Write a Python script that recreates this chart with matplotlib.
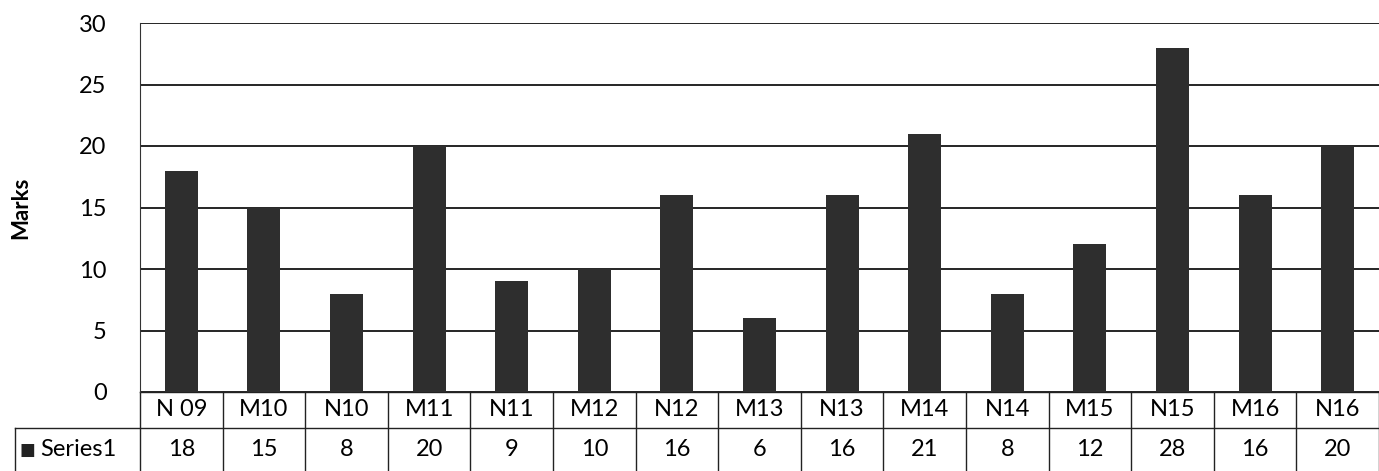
import numpy as np
import matplotlib.pyplot as plt
import matplotlib.transforms as mtransforms

plt.rcParams['font.family'] = ['Lato', 'DejaVu Sans']

categories = ["N 09", "M10", "N10", "M11", "N11", "M12", "N12", "M13",
              "N13", "M14", "N14", "M15", "N15", "M16", "N16"]
marks = [18, 15, 8, 20, 9, 10, 16, 6, 16, 21, 8, 12, 28, 16, 20]
series_name = "Series1"
y_ticks = [0, 5, 10, 15, 20, 25, 30]

fig = plt.figure(figsize=(13.79, 4.71), dpi=100)
ax = fig.add_axes([140 / 1379, 79 / 471, 1 - 140 / 1379, 369 / 471])

x = np.arange(len(categories))
ax.bar(x, marks, width=0.4, color='#2e2e2e', zorder=3)

ax.set_xlim(-0.5, len(categories) - 0.5)
ax.set_ylim(0, 30)
ax.set_yticks(y_ticks)
ax.tick_params(axis='y', length=0, labelsize=17, pad=24)
ax.set_xticks([])
ax.grid(axis='y', color='black', linewidth=1.2, zorder=1)
for s in ["top", "right", "bottom"]:
    ax.spines[s].set_visible(False)
ax.spines["left"].set_color('#333333')
ax.set_ylabel("Marks", fontsize=16, fontweight='bold')
ax.yaxis.set_label_coords(-0.088, 0.5)

# --- data table under the axis ---
trans = mtransforms.blended_transform_factory(ax.transData, ax.transAxes)
h1 = -36 / 369   # bottom of category row
h2 = -80 / 369   # bottom of value row
lab_left = -0.5 - 125 / 82.6
lw = 1.0
kw = dict(transform=trans, clip_on=False, color='#222222', linewidth=lw)

n = len(categories)
# horizontal lines
ax.plot([-0.5, n - 0.5], [0, 0], **kw)
ax.plot([lab_left, n - 0.5], [h1, h1], **kw)
ax.plot([lab_left, n - 0.5], [h2, h2], **kw)
# vertical lines
for i in range(n + 1):
    ax.plot([i - 0.5, i - 0.5], [0, h2], **kw)
ax.plot([lab_left, lab_left], [h1, h2], **kw)

for i, (c, v) in enumerate(zip(categories, marks)):
    ax.text(i, h1 / 2, c, transform=trans, ha='center', va='center', fontsize=17)
    ax.text(i, (h1 + h2) / 2, str(v), transform=trans, ha='center',
            va='center', fontsize=17)

ax.text(lab_left + 0.06, (h1 + h2) / 2, "\u25A0", transform=trans, ha='left',
        va='center', fontsize=12, color='#222222',
        family=['DejaVu Sans'])
ax.text(lab_left + 0.3, (h1 + h2) / 2, series_name, transform=trans,
        ha='left', va='center', fontsize=17)

fig.savefig("out.png", dpi=100)
